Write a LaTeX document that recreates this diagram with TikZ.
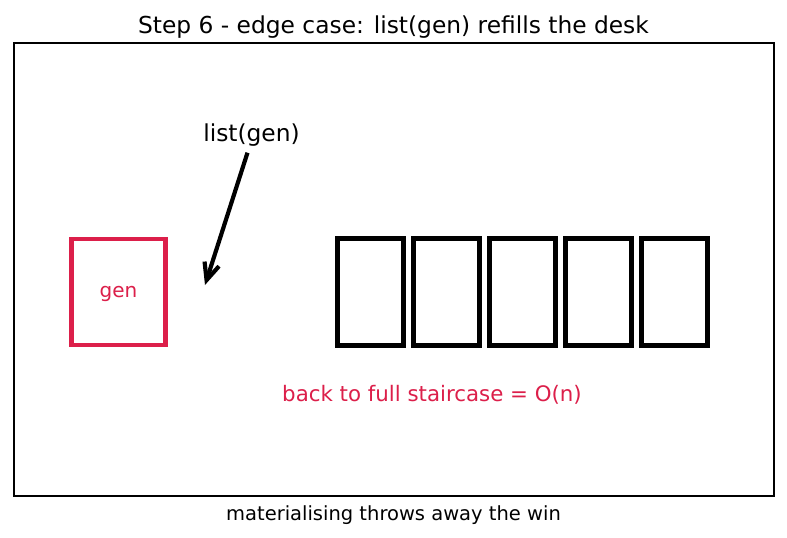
\documentclass[tikz,border=0pt]{standalone}
\usepackage{fontspec}
\setmainfont{DejaVu Sans}
\usepackage{xcolor}
\usepackage{tikz}
\usetikzlibrary{arrows.meta,positioning}
\definecolor{crim}{HTML}{DC1F4A}

\begin{document}
\begin{tikzpicture}[
  x=0.6pt,y=-0.6pt,
  frame/.style={draw=black,line width=1.5pt,minimum width=456pt,minimum height=271.8pt,inner sep=0pt},
  genbox/.style={draw=crim,line width=2.8pt,minimum width=56.6pt,minimum height=63.6pt,text depth=0pt,text=crim,font=\fontsize{12}{14}\selectfont},
  slot/.style={draw=black,line width=3pt,minimum width=39.6pt,minimum height=64.2pt,inner sep=0pt},
  lbl/.style={font=\fontsize{14}{17}\selectfont},
  note/.style={text=crim,font=\fontsize{12.8}{15}\selectfont},
  captxt/.style={font=\fontsize{11.7}{14}\selectfont},
  arr/.style={-{Straight Barb[length=3.6mm,width=3.2mm]},line width=2.5pt,draw=black}
]
\useasboundingbox (0,0) rectangle (787,537);
\fill[white] (0,0) rectangle (787,537);
\node[lbl] (title) at (393.5,27.5) {Step 6 - edge case: list(gen) refills the desk};
\node[frame] (desk) at (394,269.5) {};
\node[genbox] (gen) at (118.5,292) {gen};
\node[lbl] (listgen) at (251.5,135.5) {list(gen)};
\coordinate (tip) at (205,285);
\draw[arr] ([xshift=-2.4pt]listgen.south) -- (tip);
\node[slot] (s1) at (370.5,291.7) {};
\foreach \i [count=\j from 1] in {2,...,5}
  \node[slot,right=3pt of s\j] (s\i) {};
\node[note] (cost) at (432,394.5) {back to full staircase = O(n)};
\node[captxt] (caption) at (393.5,515.5) {materialising throws away the win};
\end{tikzpicture}
\end{document}
